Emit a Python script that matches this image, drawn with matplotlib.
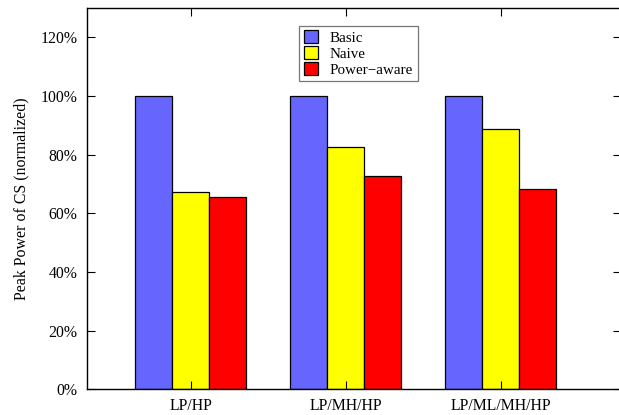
import numpy as np
import matplotlib
matplotlib.use('Agg')
import matplotlib.pyplot as plt
from matplotlib.ticker import FuncFormatter

plt.rcParams['font.family'] = ['Liberation Serif', 'DejaVu Serif']

CONFIGS = ['LP/HP', 'LP/MH/HP', 'LP/ML/MH/HP']
SCHEMES = ['Basic', 'Naive', 'Power\u2212aware']
BASIC = [100, 100, 100]
NAIVE = [67.4, 82.5, 88.6]
POWER_AWARE = [65.5, 72.8, 68.4]
COLORS = ['#6666ff', '#ffff00', '#ff0000']

fig = plt.figure(figsize=(6.19, 4.15), dpi=100)
ax = fig.add_axes([0.141, 0.062, 0.862, 0.919])

x = np.arange(len(CONFIGS))
width = 0.238
for i, (vals, name, col) in enumerate(zip([BASIC, NAIVE, POWER_AWARE], SCHEMES, COLORS)):
    ax.bar(x + (i - 1) * width, vals, width, color=col, edgecolor='black',
           linewidth=0.9, label=name)

ax.set_xlim(-0.668, 2.775)
ax.set_ylim(0, 130)
ax.set_xticks(x)
ax.set_xticklabels(CONFIGS)
ax.set_yticks(np.arange(0, 121, 20))
ax.yaxis.set_major_formatter(FuncFormatter(lambda v, p: f'{int(v)}%'))
ax.tick_params(direction='in', length=6, width=0.8, labelsize=11.3,
               top=True, right=True)
ax.tick_params(axis='y', pad=7)
ax.tick_params(axis='x', pad=6)
ax.set_ylabel('Peak Power of CS (normalized)', fontsize=11.4, labelpad=8)
for s in ax.spines.values():
    s.set_linewidth(1.0)

leg = ax.legend(loc='upper left', bbox_to_anchor=(0.397, 0.953), fontsize=10.8,
                frameon=True, fancybox=False, handlelength=0.95, handleheight=0.95,
                handletextpad=0.8, borderpad=0.3, labelspacing=0.08,
                borderaxespad=0)
leg.get_frame().set_edgecolor('#555555')
leg.get_frame().set_linewidth(0.9)

fig.savefig('out.png', dpi=100)
